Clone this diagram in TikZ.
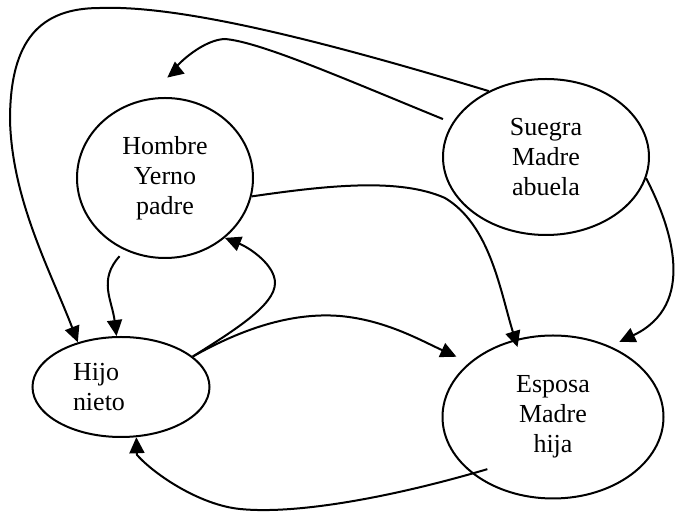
\documentclass[tikz,border=0pt]{standalone}
\usepackage{fontspec}
\setmainfont{Liberation Serif}
\usetikzlibrary{arrows.meta,shapes.geometric}

\begin{document}
\begin{tikzpicture}[
    x=0.5pt, y=-0.5pt,
    oval/.style={
      draw,
      ellipse,
      line width=1pt,
      inner sep=0pt,
      align=center,
      font=\fontsize{13}{15}\selectfont
    },
    arr/.style={
      -{Triangle[length=8pt,width=7.5pt]},
      line width=1pt
    }
  ]
  \useasboundingbox (0,0) rectangle (676,512);

  % Family members
  \node[oval, minimum width=88pt, minimum height=80pt] (hombre) at (165,178)
    {Hombre\\Yerno\\padre};
  \node[oval, minimum width=103pt, minimum height=78pt] (suegra) at (546,157)
    {Suegra\\Madre\\abuela};
  \node[oval, minimum width=88.5pt, minimum height=50pt,
        text width=48pt, align=left] (hijo) at (121,387)
    {Hijo\\nieto};
  \node[oval, minimum width=110.5pt, minimum height=81.5pt] (esposa) at (553,417)
    {Esposa\\Madre\\hija};

  % From Suegra
  \draw[arr] (suegra.131) .. controls (320,40) and (180,5) .. (100,8)
    .. controls (40,8) and (10,40) .. (10,120)
    .. controls (12,200) and (50,270) .. (hijo.134);
  \draw[arr, shorten <=5pt, shorten >=18.5pt] (suegra.160)
    .. controls (340,77) and (260,42) .. (225,39)
    .. controls (195,40) and (158,85) .. (hombre.109);
  \draw[arr, shorten >=5pt] (suegra.-12)
    .. controls (672,228) and (697,305) .. (esposa.51);

  % From Hombre
  \draw[arr, shorten >=-4pt] (hombre.-12)
    .. controls (330,185) and (400,178) .. (445,198)
    .. controls (490,225) and (500,290) .. (esposa.116);
  \draw[arr, shorten <=4pt] (hombre.-119)
    .. controls (98,280) and (112,300) .. (hijo.95);

  % From Hijo
  \draw[arr] (hijo.23) .. controls (235,330) and (275,305) .. (275,283)
    .. controls (275,265) and (250,248) .. (hombre.-45);
  \draw[arr, shorten >=7pt] (hijo.23)
    .. controls (240,330) and (290,312) .. (340,316)
    .. controls (385,320) and (420,340) .. (esposa.147);

  % From Esposa
  \draw[arr, shorten <=-8pt] (esposa.215)
    .. controls (400,495) and (300,515) .. (240,509)
    .. controls (200,505) and (155,475) .. (137,455)
    -- (hijo.-73);
\end{tikzpicture}
\end{document}
